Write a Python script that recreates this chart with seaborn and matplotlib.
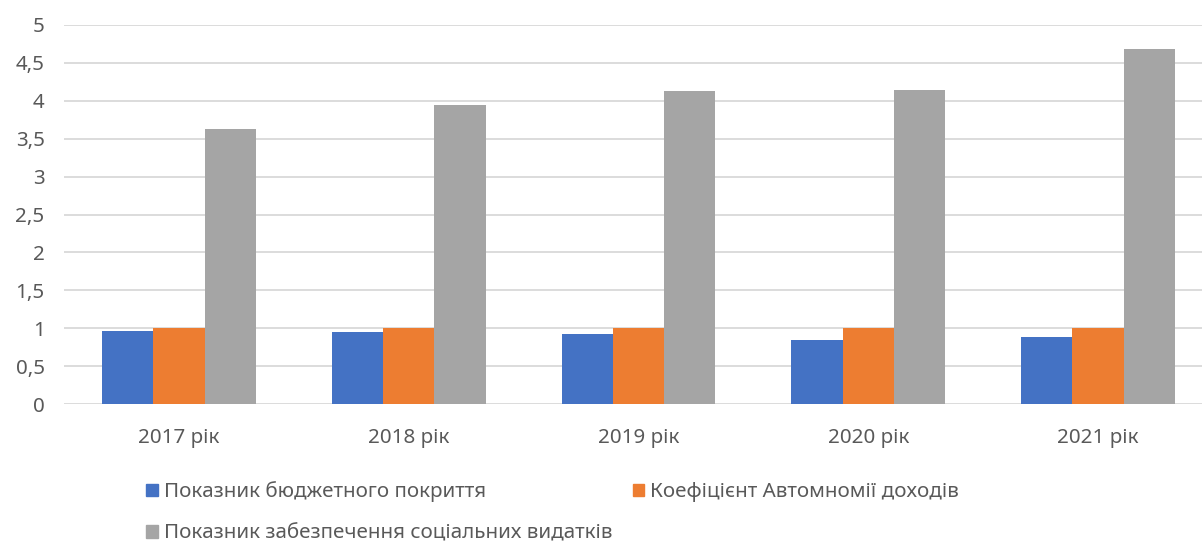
import pandas as pd
import seaborn as sns
import matplotlib.pyplot as plt
from matplotlib.patches import Patch
from matplotlib.ticker import FuncFormatter

# дані з діаграми
years = ['2017 рік', '2018 рік', '2019 рік', '2020 рік', '2021 рік']
series_names = ['Показник бюджетного покриття',
                'Коефіцієнт Автомномії доходів',
                'Показник забезпечення соціальних видатків']
budget_cover = [0.96, 0.95, 0.93, 0.85, 0.89]
autonomy = [1.0, 1.0, 1.0, 1.0, 1.0]
social = [3.63, 3.94, 4.13, 4.14, 4.68]
colors = ['#4472C4', '#ED7D31', '#A5A5A5']

df = pd.DataFrame({
    'year': years * 3,
    'series': [series_names[0]] * 5 + [series_names[1]] * 5 + [series_names[2]] * 5,
    'value': budget_cover + autonomy + social,
})

sns.set_style('white')
plt.rcParams['font.family'] = ['Noto Sans', 'DejaVu Sans']
text_color = '#595959'
fs = 14.8

fig = plt.figure(figsize=(12.02, 5.43), dpi=100)
ax = fig.add_axes([64 / 1202, (543 - 404) / 543, (1202 - 64) / 1202, (404 - 25) / 543])

sns.barplot(data=df, x='year', y='value', hue='series', hue_order=series_names,
            palette=colors, width=0.67, gap=0, saturation=1, linewidth=0,
            ax=ax, legend=False)

ax.set_ylim(0, 5)
ax.set_xlim(-0.5, 4.5 - 11 / 229.75)
ax.set_yticks([i * 0.5 for i in range(11)])
ax.yaxis.set_major_formatter(FuncFormatter(lambda v, p: ('%g' % v).replace('.', ',')))
ax.grid(axis='y', color='#D9D9D9', linewidth=1.3)
ax.set_axisbelow(True)
for s in ax.spines.values():
    s.set_visible(False)
ax.tick_params(axis='y', length=0, pad=14, labelsize=fs, labelcolor=text_color)
ax.tick_params(axis='x', length=0, pad=17, labelsize=fs, labelcolor=text_color)
ax.set_xlabel('')
ax.set_ylabel('')

handles = [Patch(color=colors[0]), Patch(color=colors[2]), Patch(color=colors[1])]
labels = [series_names[0], series_names[2], series_names[1]]
fig.legend(handles, labels, ncol=2, loc='upper left', bbox_to_anchor=(136 / 1202, 1 - 471 / 543),
           frameon=False, fontsize=fs, labelcolor=text_color, handlelength=0.55, handleheight=0.55,
           handletextpad=0.3, columnspacing=1.0, labelspacing=1.05, borderpad=0)

fig.savefig('out.png', dpi=100)
